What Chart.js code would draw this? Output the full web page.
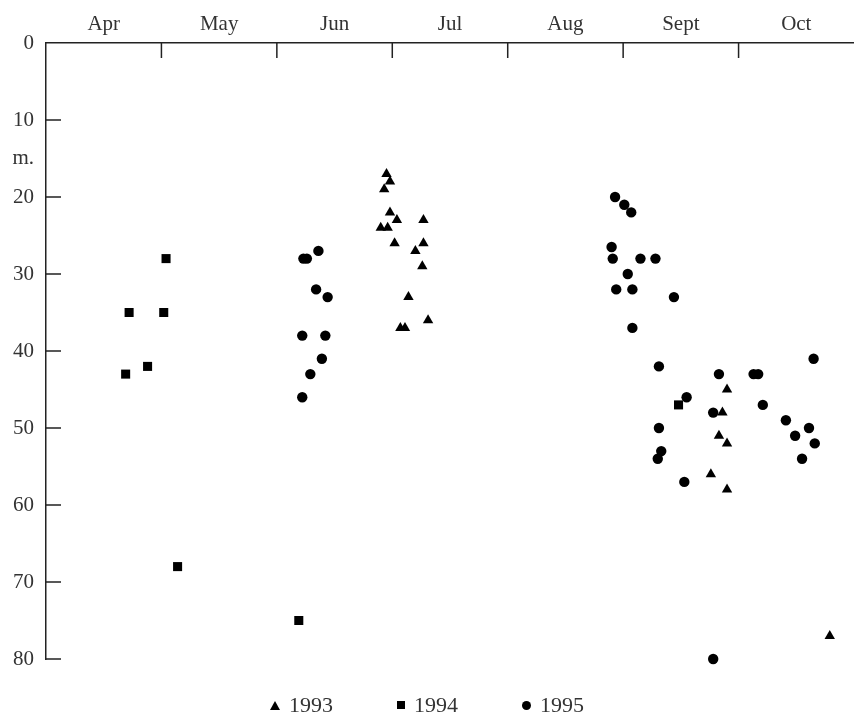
<!DOCTYPE html>
<html lang="en">
<head>
  <meta charset="UTF-8" />
  <title>Depth by month, 1993-1995</title>
  <script src="https://cdn.jsdelivr.net/npm/chart.js"></script>
  <style>
    body {
      margin: 0;
      background: #fff;
      font-family: "Liberation Serif", serif;
    }
    .wrap {
      position: relative;
      width: 854px;
      height: 720px;
    }
    #legend {
      position: absolute;
      left: 0;
      right: 0;
      top: 692px;
      display: flex;
      justify-content: center;
      gap: 64px;
      color: #333;
      font-size: 22px;
    }
    .item { display: flex; align-items: center; }
    .mark { margin-right: 9px; background: #000; }
    .tri {
      width: 0; height: 0; background: none;
      border-left: 5px solid transparent;
      border-right: 5px solid transparent;
      border-bottom: 9px solid #000;
    }
    .sq { width: 8px; height: 8px; }
    .dot { width: 9px; height: 9px; border-radius: 50%; }
  </style>
</head>
<body>
  <div class="wrap">
    <canvas id="chart" width="854" height="720"></canvas>
    <div id="legend"></div>
  </div>

  <script>
    // x is in month units: Apr = 4..5, May = 5..6, ... Oct = 10..11
    const months = ['Apr', 'May', 'Jun', 'Jul', 'Aug', 'Sept', 'Oct'];
    const firstMonth = 4;
    const depthTicks = [0, 10, 20, 30, 40, 50, 60, 70, 80];
    const depthUnit = 'm.';
    const unitAt = 15;

    const x1993 = [6.95, 6.98, 6.93, 6.98, 7.04, 6.90, 6.96, 7.02, 7.27, 7.27, 7.20, 7.26, 7.14, 7.07, 7.11, 7.31,
                   9.90, 9.86, 9.83, 9.90, 9.76, 9.90, 10.79];
    const y1993 = [17, 18, 19, 22, 23, 24, 24, 26, 23, 26, 27, 29, 33, 37, 37, 36,
                   45, 48, 51, 52, 56, 58, 77];

    const x1994 = [4.72, 5.04, 5.02, 4.69, 4.88, 5.14, 6.19, 9.48];
    const y1994 = [35, 28, 35, 43, 42, 68, 75, 47];

    const x1995 = [6.23, 6.26, 6.36, 6.34, 6.44, 6.22, 6.42, 6.39, 6.29, 6.22,
                   8.93, 9.01, 9.07, 8.90, 8.91, 9.15, 9.28, 9.04, 8.94, 9.08, 9.44, 9.08,
                   9.31, 10.65, 9.83, 10.13, 10.17, 9.55, 9.78, 10.21, 10.41,
                   9.31, 9.33, 9.30, 9.53, 10.61, 10.49, 10.66, 10.55, 9.78];
    const y1995 = [28, 28, 27, 32, 33, 38, 38, 41, 43, 46,
                   20, 21, 22, 26.5, 28, 28, 28, 30, 32, 32, 33, 37,
                   42, 41, 43, 43, 43, 46, 48, 47, 49,
                   50, 53, 54, 57, 50, 51, 52, 54, 80];

    const pts = (xs, ys) => xs.map((x, i) => ({ x: x, y: ys[i] }));

    const textColor = '#333';
    const axisColor = '#222';
    const font = { family: '"Liberation Serif", serif', size: 21 };

    // short tick marks pointing into the plot, as in the printed figure
    const innerTicks = {
      id: 'innerTicks',
      beforeDatasetsDraw(chart) {
        const { ctx, chartArea: a, scales: { x, y } } = chart;
        ctx.save();
        ctx.strokeStyle = axisColor;
        ctx.lineWidth = 1.5;
        ctx.beginPath();
        depthTicks.slice(1).forEach(v => {
          const py = y.getPixelForValue(v);
          ctx.moveTo(a.left, py);
          ctx.lineTo(a.left + 15, py);
        });
        months.slice(1).forEach((m, i) => {
          const px = x.getPixelForValue(firstMonth + i + 1);
          ctx.moveTo(px, a.top);
          ctx.lineTo(px, a.top + 15);
        });
        ctx.stroke();
        ctx.restore();
      }
    };

    const ctx = document.getElementById('chart').getContext('2d');
    const chart = new Chart(ctx, {
      type: 'scatter',
      data: {
        datasets: [
          { label: '1993', data: pts(x1993, y1993), pointStyle: 'triangle', pointRadius: 6,
            backgroundColor: '#000', borderColor: '#000', borderWidth: 0 },
          { label: '1994', data: pts(x1994, y1994), pointStyle: 'rect', pointRadius: 6.4,
            backgroundColor: '#000', borderColor: '#000', borderWidth: 0 },
          { label: '1995', data: pts(x1995, y1995), pointStyle: 'circle', pointRadius: 5.2,
            backgroundColor: '#000', borderColor: '#000', borderWidth: 0 }
        ]
      },
      options: {
        responsive: false,
        animation: false,
        clip: false,
        layout: { autoPadding: false, padding: { bottom: 61, right: 0 } },
        plugins: {
          legend: { display: false },
          tooltip: { enabled: false }
        },
        scales: {
          x: {
            type: 'linear',
            position: 'top',
            min: firstMonth,
            max: firstMonth + months.length,
            afterBuildTicks: s => {
              s.ticks = months.map((m, i) => ({ value: firstMonth + i + 0.5 }));
            },
            afterFit: s => { s.height = 43; },
            ticks: {
              callback: v => months[Math.round(v - firstMonth - 0.5)],
              color: textColor,
              font: font,
              padding: 6,
              maxRotation: 0,
              autoSkip: false
            },
            grid: { display: false, drawTicks: false },
            border: { display: true, color: axisColor, width: 1.5 }
          },
          y: {
            reverse: true,
            min: 0,
            max: 80,
            afterBuildTicks: s => {
              s.ticks = depthTicks.concat([unitAt]).sort((a, b) => a - b).map(v => ({ value: v }));
            },
            afterFit: s => { s.width = 46; },
            ticks: {
              callback: v => (v === unitAt ? depthUnit : v),
              color: textColor,
              font: font,
              padding: 12,
              autoSkip: false
            },
            grid: { display: false, drawTicks: false },
            border: { display: true, color: axisColor, width: 1.5 }
          }
        }
      },
      plugins: [innerTicks]
    });

    // legend built from the datasets
    const shapeClass = { triangle: 'tri', rect: 'sq', circle: 'dot' };
    const legend = document.getElementById('legend');
    chart.data.datasets.forEach(ds => {
      const item = document.createElement('div');
      item.className = 'item';
      const mark = document.createElement('span');
      mark.className = 'mark ' + shapeClass[ds.pointStyle];
      const label = document.createElement('span');
      label.textContent = ds.label;
      item.appendChild(mark);
      item.appendChild(label);
      legend.appendChild(item);
    });
  </script>
</body>
</html>
